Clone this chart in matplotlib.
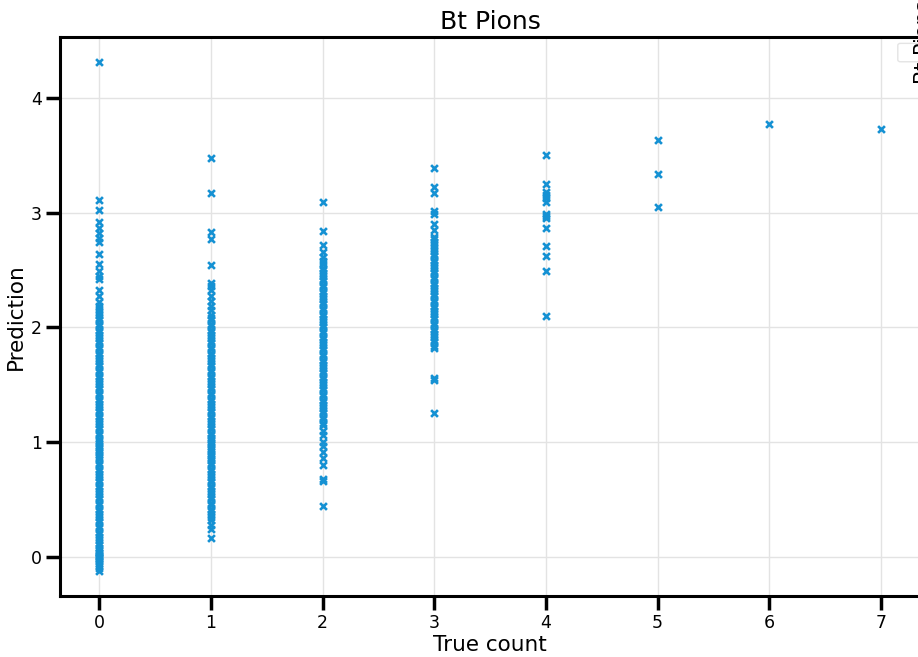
import matplotlib
matplotlib.use("Agg")
import matplotlib.pyplot as plt
from matplotlib.patches import FancyBboxPatch
import numpy as np

# predicted counts grouped by true count
pred_0 = [-0.12, -0.10, -0.08, -0.06, -0.04, -0.02, -0.01, 0.00, 0.01, 0.02, 0.03, 0.04,
          0.06, 0.08, 0.10, 0.12, 0.15, 0.17, 0.20, 0.22, 0.25, 0.27, 0.30, 0.32, 0.35,
          0.37, 0.40, 0.42, 0.45, 0.47, 0.50, 0.52, 0.55, 0.57, 0.60, 0.62, 0.65, 0.67,
          0.70, 0.72, 0.75, 0.77, 0.80, 0.82, 0.85, 0.87, 0.89, 0.91, 0.93, 0.95, 0.97,
          0.99, 1.01, 1.03, 1.06, 1.08, 1.11, 1.13, 1.16, 1.18, 1.21, 1.23, 1.26, 1.28,
          1.31, 1.33, 1.36, 1.38, 1.41, 1.43, 1.46, 1.48, 1.51, 1.53, 1.56, 1.58, 1.61,
          1.63, 1.66, 1.68, 1.71, 1.73, 1.76, 1.78, 1.81, 1.83, 1.86, 1.88, 1.91, 1.93,
          1.96, 1.98, 2.01, 2.03, 2.06, 2.08, 2.11, 2.13, 2.16, 2.19,
          2.22, 2.27, 2.33, 2.42, 2.45, 2.49, 2.55, 2.64, 2.74, 2.78, 2.82, 2.87,
          2.92, 3.02, 3.11, 4.31]
pred_1 = [0.16, 0.24, 0.28, 0.32, 0.35, 0.37, 0.40, 0.42, 0.45, 0.47, 0.50, 0.52, 0.55,
          0.57, 0.60, 0.62, 0.65, 0.67, 0.70, 0.72, 0.75, 0.77, 0.80, 0.82, 0.84, 0.86,
          0.88, 0.90, 0.92, 0.94, 0.96, 0.98, 1.00, 1.02, 1.04, 1.06, 1.08, 1.11, 1.13,
          1.16, 1.18, 1.21, 1.23, 1.26, 1.28, 1.31, 1.33, 1.36, 1.38, 1.41, 1.43, 1.46,
          1.48, 1.51, 1.53, 1.56, 1.58, 1.61, 1.63, 1.66, 1.68, 1.71, 1.73, 1.76, 1.78,
          1.81, 1.83, 1.86, 1.88, 1.91, 1.93, 1.96, 1.98, 2.01, 2.03, 2.06, 2.08, 2.11,
          2.15, 2.19, 2.23, 2.27, 2.33, 2.36, 2.39, 2.54, 2.77, 2.83, 3.17, 3.48]
pred_2 = [0.44, 0.66, 0.68, 0.80, 0.86, 0.91, 0.97, 1.00, 1.06, 1.10, 1.15, 1.17, 1.20,
          1.22, 1.25, 1.27, 1.30, 1.32, 1.35, 1.37, 1.40, 1.42, 1.45, 1.47, 1.50, 1.52,
          1.55, 1.57, 1.60, 1.62, 1.65, 1.67, 1.70, 1.72, 1.75, 1.77, 1.80, 1.82, 1.85,
          1.87, 1.90, 1.92, 1.95, 1.97, 2.00, 2.02, 2.05, 2.07, 2.10, 2.12, 2.15, 2.17,
          2.20, 2.22, 2.25, 2.27, 2.30, 2.32, 2.35, 2.37, 2.40, 2.42, 2.45, 2.47, 2.50,
          2.52, 2.55, 2.58, 2.61, 2.66, 2.72, 2.84, 3.09]
pred_3 = [1.25, 1.54, 1.56, 1.82, 1.84, 1.87, 1.89, 1.92, 1.94, 1.97, 1.99, 2.02, 2.04,
          2.07, 2.09, 2.12, 2.14, 2.17, 2.19, 2.22, 2.24, 2.27, 2.29, 2.32, 2.34, 2.37,
          2.39, 2.42, 2.44, 2.47, 2.49, 2.52, 2.54, 2.57, 2.59, 2.62, 2.64, 2.67, 2.69,
          2.72, 2.74, 2.77, 2.79, 2.85, 2.90, 2.99, 3.01, 3.17, 3.22, 3.39]
pred_4 = [2.10, 2.49, 2.62, 2.71, 2.87, 2.95, 2.97, 2.99, 3.09, 3.13, 3.15, 3.18, 3.25, 3.50]
pred_5 = [3.05, 3.34, 3.63]
pred_6 = [3.77]
pred_7 = [3.73]

groups = [pred_0, pred_1, pred_2, pred_3, pred_4, pred_5, pred_6, pred_7]
true_count = np.concatenate([[k] * len(g) for k, g in enumerate(groups)])
prediction = np.concatenate(groups)

fig = plt.figure(figsize=(9.18, 6.57), dpi=100)
ax = fig.add_axes([0.0654, 0.0928, 0.937, 0.851])

ax.scatter(true_count, prediction, marker="x", s=24, linewidths=1.9,
           color="#1591d3", zorder=3)

ax.set_title("Bt Pions", fontsize=18)
ax.set_xlabel("True count", fontsize=15.5, labelpad=2)
ax.set_ylabel("Prediction", fontsize=15.5, labelpad=4)
ax.set_xticks(range(8))
ax.set_yticks(range(5))
ax.tick_params(axis="both", labelsize=12.5, length=10, width=2.5, pad=3)
ax.grid(True, color="#e3e3e3", linewidth=1)
ax.set_axisbelow(True)
for side in ax.spines.values():
    side.set_linewidth(2.2)

# legend box and its rotated title, off to the right of the axes
fig.patches.append(FancyBboxPatch((0.981, 0.909), 0.06, 0.022, boxstyle="round,pad=0.003",
                                  transform=fig.transFigure, facecolor="white",
                                  edgecolor="#e4e4e4", linewidth=1))
fig.text(0.9955, 1.0, "Bt Pions", rotation=90, fontsize=15, ha="left", va="top")

fig.savefig("out.png", dpi=100)
